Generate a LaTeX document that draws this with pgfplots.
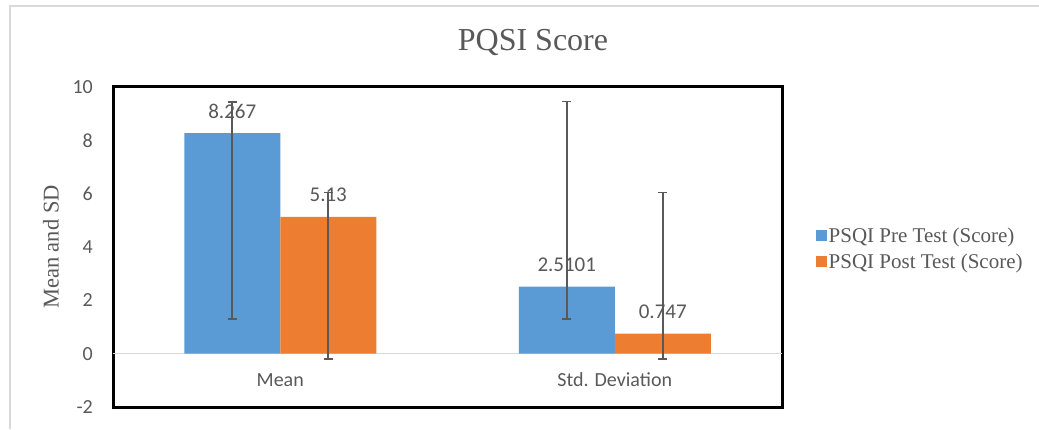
\documentclass[border=0pt]{standalone}
\usepackage{pgfplots}
\pgfplotsset{compat=1.18}
\usepackage{fontspec}
\setmainfont{Liberation Serif}
\newfontfamily\calfont{Carlito}
\definecolor{preblue}{HTML}{5B9BD5}
\definecolor{postorange}{HTML}{ED7D31}
\definecolor{txtgray}{HTML}{595959}
\definecolor{framegray}{HTML}{D9D9D9}
\begin{document}
\begin{tikzpicture}[x=1bp,y=1bp]
\useasboundingbox (0,0) rectangle (1039,429);
\fill[white] (0,0) rectangle (1039,429);
\draw[framegray, line width=2bp] (10,0) -- (10,423) -- (1039,423);
\node[font=\fontsize{32bp}{36bp}\selectfont, text=txtgray] at (533,387) {PQSI Score};
\node[font=\fontsize{22.5bp}{26bp}\selectfont, text=txtgray, rotate=90] at (51,182) {Mean and SD};
\begin{axis}[
  at={(113bp,22bp)}, anchor=south west,
  scale only axis, width=669bp, height=320bp,
  xmin=-0.5, xmax=1.5, ymin=-2, ymax=10,
  ybar=0pt, bar width=96bp,
  axis line style={black, line width=3bp},
  major tick length=0pt,
  xtick={0,1}, xticklabels={Mean, Std. Deviation},
  xticklabel style={anchor=center, inner sep=0pt, yshift=27bp, font=\calfont\fontsize{20bp}{23bp}\selectfont, text=txtgray},
  ytick={-2,0,2,4,6,8,10}, yticklabels={-2,0,2,4,6,8,10},
  yticklabel style={anchor=east, inner sep=0pt, xshift=-20bp, font=\calfont\fontsize{20bp}{23bp}\selectfont, text=txtgray},
  extra y ticks={0}, extra y tick labels={},
  extra y tick style={grid=major, major grid style={color=framegray, line width=1.2bp}},
  error bars/y dir=both, error bars/y explicit,
  error bars/error bar style={color=txtgray, line width=1.6bp},
  error bars/error mark options={rotate=90, mark size=4.5bp, line width=1.6bp, color=txtgray},
  nodes near coords, point meta=explicit symbolic,
  every node near coord/.append style={anchor=center, yshift=22bp, font=\calfont\fontsize{21bp}{24bp}\selectfont, text=txtgray},
  legend style={at={(1.05,0.495)}, anchor=west, draw=none, fill=none,
    font=\fontsize{21bp}{24bp}\selectfont, text=txtgray, row sep=6bp, inner sep=0pt,
    /tikz/every even column/.append style={column sep=3bp}},
  legend cell align=left,
  legend image code/.code={\fill[#1] (0bp,-5.5bp) rectangle (11bp,5.5bp);},
]
\addplot[fill=preblue, draw=none] coordinates {
  (0,8.267) += (0,1.18) -= (0,6.96) [8.267]
  (1,2.5101) += (0,6.94) -= (0,1.20) [2.5101]
};
\addlegendentry{PSQI Pre Test (Score)}
\addplot[fill=postorange, draw=none] coordinates {
  (0,5.13) += (0,0.92) -= (0,5.32) [5.13]
  (1,0.747) += (0,5.30) -= (0,0.94) [0.747]
};
\addlegendentry{PSQI Post Test (Score)}
\end{axis}
\end{tikzpicture}
\end{document}
